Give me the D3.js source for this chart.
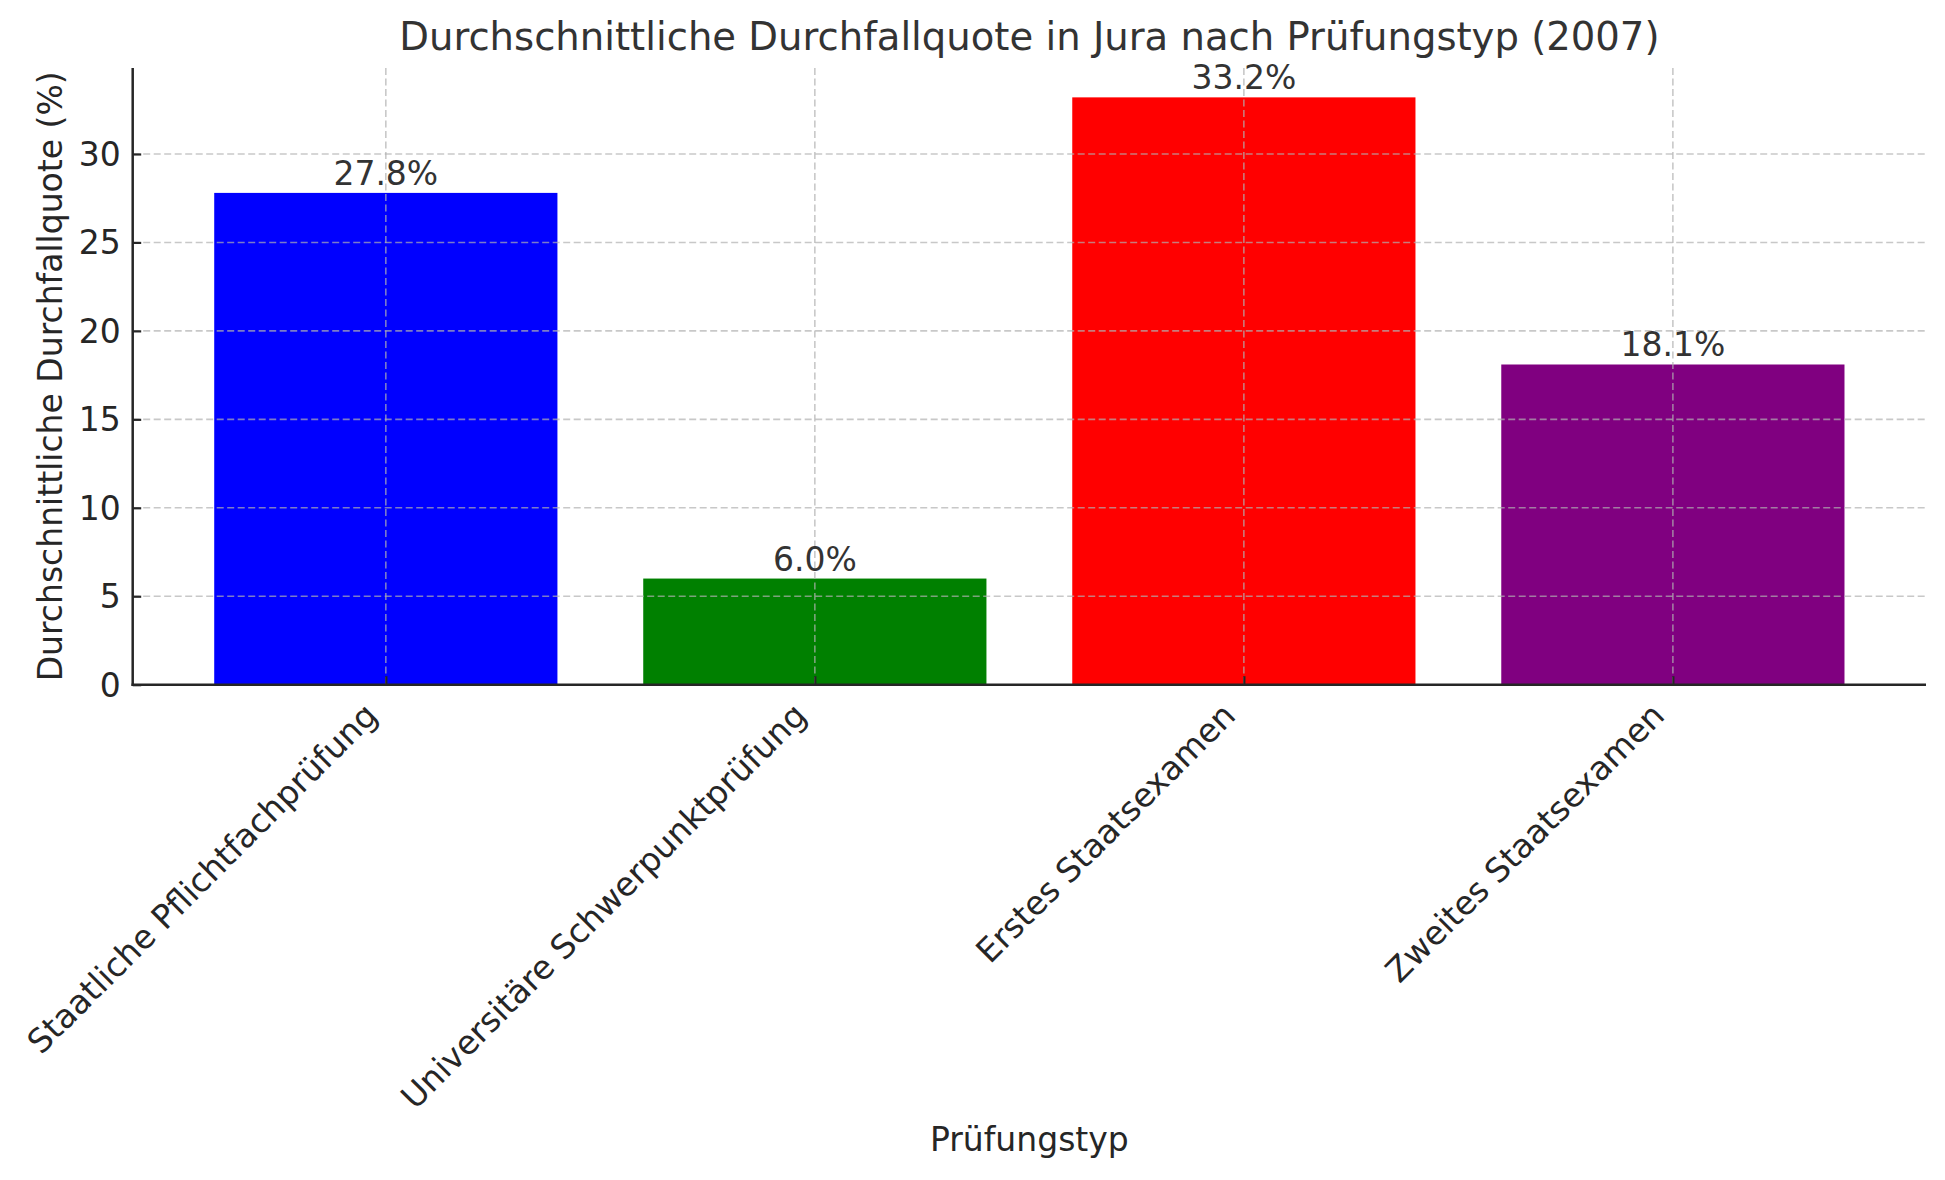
<!DOCTYPE html>
<html>
<head>
<meta charset="utf-8">
<script src="https://cdn.jsdelivr.net/npm/d3@7"></script>
<style>
  html, body { margin: 0; padding: 0; background: #ffffff; }
  svg { display: block; font-family: "DejaVu Sans", sans-serif; }
</style>
</head>
<body>
<svg id="chart" width="1945" height="1180"></svg>
<script>
// Data
const categories = ["Staatliche Pflichtfachprüfung", "Universitäre Schwerpunktprüfung", "Erstes Staatsexamen", "Zweites Staatsexamen"];
const values = [27.8, 6.0, 33.2, 18.1];
const barColors = ["blue", "green", "red", "purple"];
const yTicks = [0, 5, 10, 15, 20, 25, 30];
const titleText = "Durchschnittliche Durchfallquote in Jura nach Prüfungstyp (2007)";
const xLabelText = "Prüfungstyp";
const yLabelText = "Durchschnittliche Durchfallquote (%)";

const W = 1945, H = 1180;
const plot = { left: 132.7, right: 1926, top: 68, bottom: 684.7 };
const svg = d3.select("#chart");
svg.append("rect").attr("width", W).attr("height", H).attr("fill", "#fff");

// matplotlib-like limits: bar width 0.8, x margin 5%
const n = categories.length;
const x = d3.scaleLinear().domain([-0.59, n - 1 + 0.59]).range([plot.left, plot.right]);
const yMax = d3.max(values) * 1.05;
const y = d3.scaleLinear().domain([0, yMax]).range([plot.bottom, plot.top]);
const barW = 0.8;

const grid = svg.append("g").attr("class", "grid");
grid.selectAll("line.h").data(yTicks).enter().append("line")
  .attr("x1", plot.left).attr("x2", plot.right)
  .attr("y1", d => y(d)).attr("y2", d => y(d))
  .attr("stroke", "#b0b0b0").attr("stroke-opacity", 0.7)
  .attr("stroke-width", 1.6).attr("stroke-dasharray", "7,3.5");
grid.selectAll("line.v").data(d3.range(n)).enter().append("line")
  .attr("x1", d => x(d)).attr("x2", d => x(d))
  .attr("y1", plot.top).attr("y2", plot.bottom)
  .attr("stroke", "#b0b0b0").attr("stroke-opacity", 0.7)
  .attr("stroke-width", 1.6).attr("stroke-dasharray", "7,3.5");

// bars
svg.append("g").selectAll("rect").data(values).enter().append("rect")
  .attr("x", (d, i) => x(i - barW / 2))
  .attr("width", (d, i) => x(i + barW / 2) - x(i - barW / 2))
  .attr("y", d => y(d))
  .attr("height", d => y(0) - y(d))
  .attr("fill", (d, i) => barColors[i]);

// grid drawn above bars
svg.node().appendChild(grid.node());

// bar labels
svg.append("g").selectAll("text").data(values).enter().append("text")
  .attr("x", (d, i) => x(i))
  .attr("y", d => y(d) - 8)
  .attr("text-anchor", "middle")
  .attr("font-size", 33)
  .attr("fill", "#333333")
  .text(d => d.toFixed(1) + "%");

// y axis
const yAxis = d3.axisLeft(y).tickValues(yTicks).tickSize(-8.5).tickPadding(12).tickFormat(d3.format("d"));
const gy = svg.append("g").attr("transform", `translate(${plot.left},0)`).call(yAxis);
gy.select(".domain").remove();
gy.selectAll(".tick line").attr("stroke", "#262626").attr("stroke-width", 2.2);
gy.selectAll(".tick text").attr("font-size", 33).attr("fill", "#262626")
  .attr("font-family", "DejaVu Sans").attr("dy", "0.35em");
svg.append("line").attr("x1", plot.left).attr("x2", plot.left)
  .attr("y1", plot.top).attr("y2", plot.bottom + 1.2)
  .attr("stroke", "#262626").attr("stroke-width", 2.5);

// x axis
const xAxis = d3.axisBottom(x).tickValues(d3.range(n)).tickSize(-8.5).tickFormat(() => "");
const gx = svg.append("g").attr("transform", `translate(0,${plot.bottom})`).call(xAxis);
gx.select(".domain").remove();
gx.selectAll(".tick line").attr("stroke", "#262626").attr("stroke-width", 2.2);
svg.append("line").attr("x1", plot.left - 1.2).attr("x2", plot.right)
  .attr("y1", plot.bottom).attr("y2", plot.bottom)
  .attr("stroke", "#262626").attr("stroke-width", 2.5);

// rotated x tick labels (rotation 45, ha right)
const fs = 33, boxH = fs * 1.164;
const labTop = plot.bottom + 11;
svg.append("g").selectAll("text").data(categories).enter().append("text")
  .attr("transform", (d, i) => `translate(${x(i) - 1},${labTop + boxH / Math.SQRT2}) rotate(-45)`)
  .attr("text-anchor", "end")
  .attr("dy", -0.236 * fs)
  .attr("font-size", fs)
  .attr("fill", "#262626")
  .text(d => d);

// axis labels
svg.append("text").attr("x", (plot.left + plot.right) / 2).attr("y", 1151)
  .attr("text-anchor", "middle").attr("font-size", 33).attr("fill", "#262626")
  .text(xLabelText);
svg.append("text")
  .attr("transform", `translate(62,${(plot.top + plot.bottom) / 2}) rotate(-90)`)
  .attr("text-anchor", "middle").attr("font-size", 33).attr("fill", "#262626")
  .text(yLabelText);

// title
svg.append("text").attr("x", (plot.left + plot.right) / 2).attr("y", 50)
  .attr("text-anchor", "middle").attr("font-size", 38.6).attr("fill", "#333333")
  .text(titleText);
</script>
</body>
</html>
